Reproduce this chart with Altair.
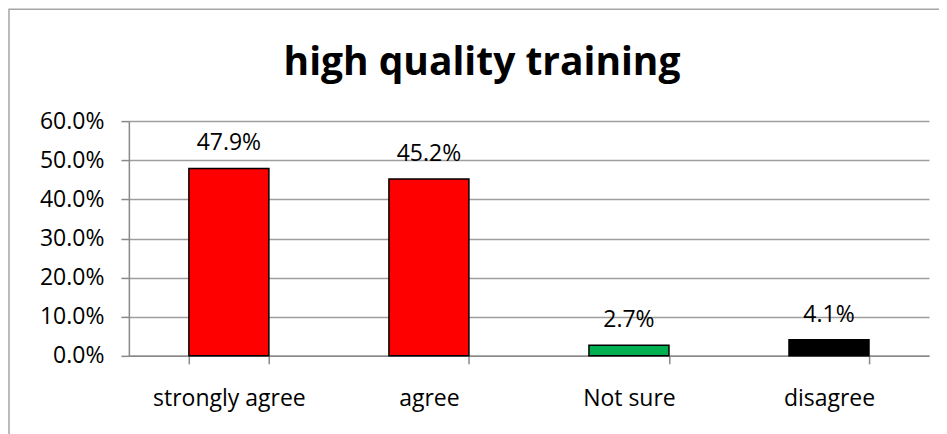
import altair as alt
import pandas as pd

categories = ["strongly agree", "agree", "Not sure", "disagree"]
values = [0.479, 0.452, 0.027, 0.041]
colors = ["#FF0000", "#FF0000", "#00B050", "#000000"]
y_ticks = [0.0, 0.1, 0.2, 0.3, 0.4, 0.5, 0.6]

df = pd.DataFrame({"category": categories, "value": values, "color": colors})

FONT = "Open Sans"
FS = 23

x_enc = alt.X(
    "category:N",
    sort=categories,
    title=None,
    scale=alt.Scale(paddingInner=0.6, paddingOuter=0.3),
    axis=alt.Axis(
        labelAngle=0,
        labelFont=FONT,
        labelFontSize=FS,
        labelColor="#000000",
        labelPadding=24,
        domainColor="#898989",
        domainWidth=1.5,
        tickColor="#898989",
        tickWidth=1.5,
        tickSize=8,
        tickBand="extent",
        grid=False,
    ),
)
y_enc = alt.Y(
    "value:Q",
    title=None,
    scale=alt.Scale(domain=[0, 0.6], nice=False),
    axis=alt.Axis(
        values=y_ticks,
        format=".1%",
        labelFont=FONT,
        labelFontSize=FS,
        labelColor="#000000",
        labelPadding=17,
        labelOverlap=False,
        domainColor="#898989",
        domainWidth=1.5,
        tickColor="#898989",
        tickWidth=1.5,
        tickSize=8,
        gridColor="#9E9E9E",
        gridWidth=1.5,
    ),
)

bars = alt.Chart(df).mark_bar(stroke="#000000", strokeWidth=1.5).encode(
    x=x_enc,
    y=y_enc,
    color=alt.Color("color:N", scale=None),
)

labels = alt.Chart(df).mark_text(
    font=FONT, fontSize=FS, color="#000000", baseline="alphabetic", dy=-18
).encode(
    x=x_enc,
    y=y_enc,
    text=alt.Text("value:Q", format=".1%"),
)

border = alt.Chart(pd.DataFrame({"a": [0]})).mark_rect(
    fill=None, stroke="#A6A6A6", strokeWidth=1.5, clip=False
).encode(
    x=alt.value(-120), x2=alt.value(830), y=alt.value(-112), y2=alt.value(340)
)

chart = (
    alt.layer(border, bars, labels)
    .properties(
        width=801,
        height=235,
        title=alt.TitleParams(
            "high quality training",
            font=FONT,
            fontSize=39,
            fontWeight="bold",
            color="#000000",
            anchor="middle",
            dx=-47,
            offset=-75,
        ),
        autosize=alt.AutoSizeParams(type="none"),
        padding={"left": 121, "top": 113, "right": 10, "bottom": 80},
    )
    .configure_view(stroke=None)
)

chart.save("out.html", embed_options={"renderer": "svg", "actions": False})
